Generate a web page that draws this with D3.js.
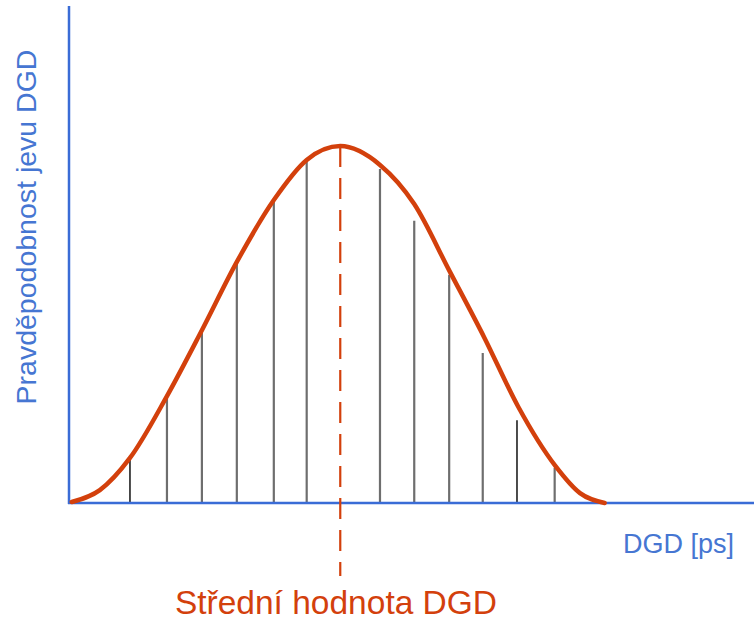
<!DOCTYPE html>
<html><head><meta charset="utf-8">
<script src="https://cdn.jsdelivr.net/npm/d3@7"></script>
<style>html,body{margin:0;padding:0;background:#fff;overflow:hidden}</style>
</head><body>
<script>
// DGD axis in arbitrary units (0..100), probability 0..1
const curveX = [0.4, 4.5, 8.9, 14.3, 19.4, 24.5, 29.9, 34.7, 39.6, 45.4, 50.4, 55.5, 60.6, 65.6, 71.0, 74.6, 78.2];
const curveY = [0.002, 0.026, 0.091, 0.216, 0.349, 0.487, 0.612, 0.693, 0.721, 0.683, 0.604, 0.470, 0.335, 0.194, 0.075, 0.020, 0.0];
const barX = [8.9, 14.3, 19.4, 24.5, 29.9, 34.7, 45.4, 50.4, 55.5, 60.4, 65.4, 70.9];
const barY = [0.089, 0.214, 0.347, 0.485, 0.610, 0.689, 0.675, 0.570, 0.461, 0.303, 0.167, 0.071];
const meanX = 39.6;
const xLabel = "DGD [ps]";
const yLabel = "Pravděpodobnost jevu DGD";
const meanLabel = "Střední hodnota DGD";

const W = 754, H = 621;
const x = d3.scaleLinear().domain([0, 100]).range([69, 754]);
const y = d3.scaleLinear().domain([0, 1]).range([503, 8]);

const svg = d3.select("body").append("svg").attr("width", W).attr("height", H);
const blue = "#3a6cd6", red = "#d3400c", textBlue = "#4676d2";
const darkIdx = new Set([0, 10]);

// bars
svg.append("g").selectAll("line").data(barX).join("line")
  .attr("x1", d => x(d)).attr("x2", d => x(d))
  .attr("y1", y(0)).attr("y2", (d, i) => y(barY[i]))
  .attr("stroke", (d, i) => darkIdx.has(i) ? "#111" : "#6e6e6e")
  .attr("stroke-width", (d, i) => darkIdx.has(i) ? 1.5 : 2.2);

// axes
svg.append("line").attr("x1", x(0)).attr("x2", x(0)).attr("y1", 6).attr("y2", y(0) + 1)
  .attr("stroke", blue).attr("stroke-width", 2.5);
svg.append("line").attr("x1", x(0) - 1).attr("x2", W).attr("y1", y(0)).attr("y2", y(0))
  .attr("stroke", blue).attr("stroke-width", 2.5);

// dashed mean line
svg.append("line").attr("x1", x(meanX)).attr("x2", x(meanX))
  .attr("y1", y(d3.max(curveY))).attr("y2", 576)
  .attr("stroke", red).attr("stroke-width", 2.2).attr("stroke-dasharray", "21,11");

// curve
const pts = curveX.map((d, i) => [d, curveY[i]]);
svg.append("path").datum(pts)
  .attr("d", d3.line().x(d => x(d[0])).y(d => y(d[1])).curve(d3.curveMonotoneX))
  .attr("fill", "none").attr("stroke", red).attr("stroke-width", 4.5).attr("stroke-linecap", "round");

const font = "'Liberation Sans', Arial, sans-serif";
svg.append("text").attr("x", 734).attr("y", 553).attr("text-anchor", "end")
  .attr("font-family", font).attr("font-size", 27).attr("fill", textBlue).text(xLabel);
svg.append("text").attr("transform", "translate(35.5,227) rotate(-90)").attr("text-anchor", "middle")
  .attr("font-family", font).attr("font-size", 28.5).attr("fill", textBlue).text(yLabel);
svg.append("text").attr("x", 336).attr("y", 614).attr("text-anchor", "middle")
  .attr("font-family", font).attr("font-size", 33.5).attr("fill", red).text(meanLabel);
</script>
</body></html>
